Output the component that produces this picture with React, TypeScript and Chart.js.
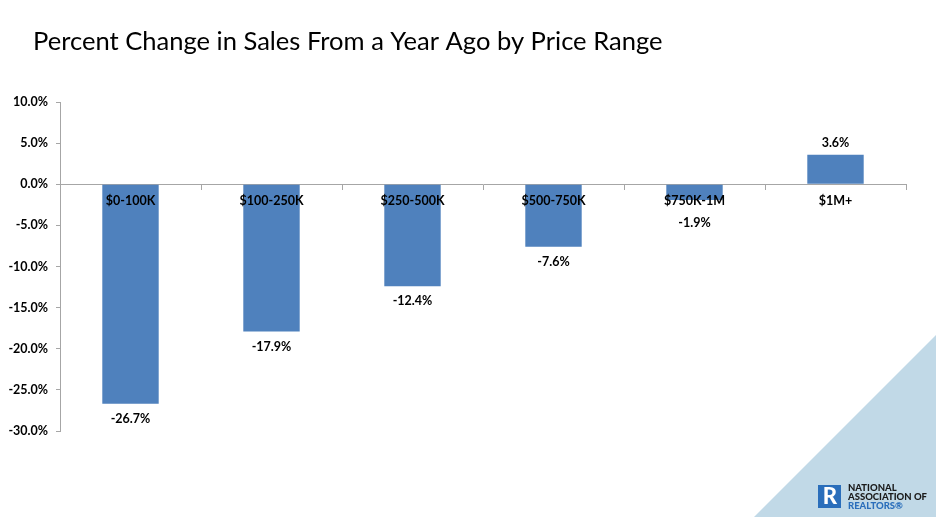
import React, { useEffect, useRef } from "react";
import { Chart, registerables } from "chart.js";

Chart.register(...registerables);

const TITLE = "Percent Change in Sales From a Year Ago by Price Range";
const categories = ["$0-100K", "$100-250K", "$250-500K", "$500-750K", "$750K-1M", "$1M+"];
const changes = [-26.7, -17.9, -12.4, -7.6, -1.9, 3.6];
const yMin = -30;
const yMax = 10;
const yStep = 5;

const BAR = "#4f81bd";
const AXIS = "#a6a6a6";
const FONT = "Lato, 'Liberation Sans', sans-serif";

const decor = {
  id: "decor",
  beforeDraw(chart: any) {
    const ctx = chart.ctx;
    const W = chart.width, H = chart.height;
    ctx.save();
    ctx.fillStyle = "#ffffff";
    ctx.fillRect(0, 0, W, H);
    // triangle
    ctx.fillStyle = "#c1d9e7";
    ctx.beginPath();
    ctx.moveTo(W, 335);
    ctx.lineTo(W, H);
    ctx.lineTo(754, H);
    ctx.closePath();
    ctx.fill();
    // title
    ctx.fillStyle = "#000000";
    ctx.font = `28px ${FONT}`;
    const w = ctx.measureText(TITLE).width;
    const size = 28 * 630 / w;
    ctx.font = `${size}px ${FONT}`;
    ctx.textBaseline = "alphabetic";
    ctx.textAlign = "left";
    ctx.fillText(TITLE, 33, 50);
    // logo
    ctx.fillStyle = "#2a6ebb";
    ctx.fillRect(818, 485, 23, 23);
    ctx.fillStyle = "#ffffff";
    ctx.font = `900 22px ${FONT}`;
    ctx.textAlign = "center";
    ctx.textBaseline = "middle";
    ctx.fillText("R", 830, 497);
    ctx.textAlign = "left";
    ctx.textBaseline = "alphabetic";
    ctx.font = `900 9.5px ${FONT}`;
    ctx.fillStyle = "#1a1a1a";
    ctx.fillText("NATIONAL", 848, 491);
    ctx.fillText("ASSOCIATION OF", 848, 500);
    ctx.fillStyle = "#2a6ebb";
    ctx.fillText("REALTORS\u00AE", 848, 509);
    ctx.restore();
  },
  afterDatasetsDraw(chart: any) {
    const ctx = chart.ctx;
    const meta = chart.getDatasetMeta(0);
    const y0 = chart.scales.y.getPixelForValue(0);
    ctx.save();
    ctx.fillStyle = "#000000";
    ctx.font = `bold 12.5px ${FONT}`;
    ctx.textAlign = "center";
    meta.data.forEach((bar: any, i: number) => {
      const v = changes[i];
      ctx.textBaseline = "middle";
      ctx.fillText(categories[i], bar.x, y0 + 17);
      const label = v.toFixed(1) + "%";
      if (v < 0) {
        const yl = Math.max(bar.y + 15, y0 + 39);
        ctx.fillText(label, bar.x, yl);
      } else {
        ctx.fillText(label, bar.x, bar.y - 12);
      }
    });
    ctx.restore();
  },
};

export default function App() {
  const ref = useRef<HTMLCanvasElement>(null);
  useEffect(() => {
    document.body.style.margin = "0";
    const chart = new Chart(ref.current!, {
      type: "bar",
      data: {
        labels: categories,
        datasets: [
          {
            data: changes,
            backgroundColor: BAR,
            borderWidth: 0,
            categoryPercentage: 0.4,
            barPercentage: 1,
          },
        ],
      },
      options: {
        animation: false,
        responsive: false,
        layout: { padding: { left: 0, right: 30, top: 102, bottom: 86 } },
        plugins: { legend: { display: false }, tooltip: { enabled: false }, title: { display: false } },
        scales: {
          x: {
            position: { y: 0 } as any,
            grid: { display: true, drawOnChartArea: false, drawTicks: true, tickLength: 5, color: AXIS, offset: true },
            border: { display: true, color: AXIS, width: 1 },
            ticks: { display: false },
          },
          y: {
            min: yMin,
            max: yMax,
            ticks: {
              stepSize: yStep,
              color: "#000000",
              font: { family: FONT, size: 12.5, weight: "bold" },
              padding: 8,
              callback: (v: any) => Number(v).toFixed(1) + "%",
            },
            grid: { display: true, drawOnChartArea: false, drawTicks: true, tickLength: 4, color: AXIS },
            border: { display: true, color: AXIS, width: 1 },
            afterFit: (s: any) => {
              s.width = 60;
            },
          },
        },
      },
      plugins: [decor],
    });
    return () => chart.destroy();
  }, []);
  return (
    <div style={{ position: "absolute", left: 0, top: 0, width: 936, height: 517 }}>
      <canvas ref={ref} width={936} height={517} style={{ display: "block" }} />
    </div>
  );
}
